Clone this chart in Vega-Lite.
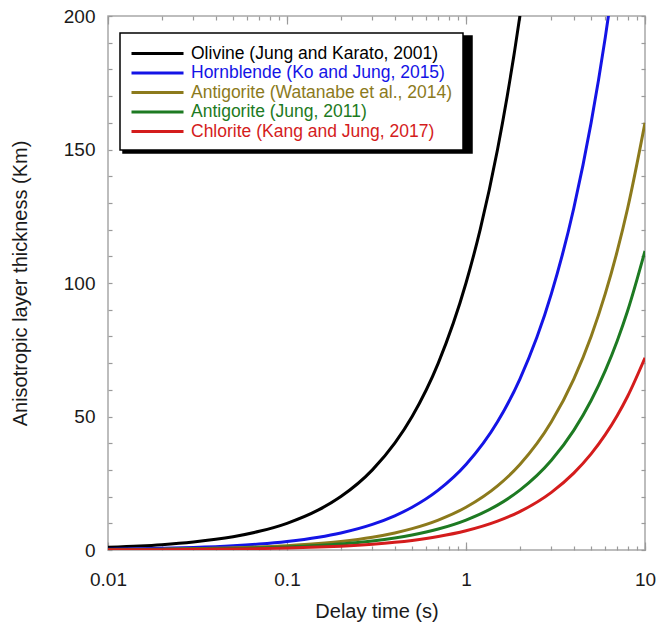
{
  "$schema": "https://vega.github.io/schema/vega-lite/v6.json",
  "autosize": "none",
  "padding": {"left": 108, "top": 16, "right": 27, "bottom": 80},
  "width": 537,
  "height": 534,
  "background": "white",
  "config": {
    "font": "Liberation Sans",
    "view": {"stroke": "#a8a8a8", "strokeWidth": 1.5},
    "axis": {
      "domain": false,
      "grid": false,
      "tickColor": "#9a9a9a",
      "tickWidth": 1.2,
      "labelFont": "Liberation Sans",
      "labelFontSize": 19,
      "labelColor": "#1a1a1a",
      "titleFont": "Liberation Sans",
      "titleFontSize": 20,
      "titleFontWeight": "normal",
      "titleColor": "#1a1a1a"
    },
    "legend": {
      "labelFont": "Liberation Sans",
      "labelFontSize": 17.5,
      "strokeWidth": 1.5
    }
  },
  "data": {
    "values": [
      {"mineral": "Olivine (Jung and Karato, 2001)", "t": 0.01, "h": 1},
      {"mineral": "Olivine (Jung and Karato, 2001)", "t": 0.015, "h": 1.5},
      {"mineral": "Olivine (Jung and Karato, 2001)", "t": 0.02, "h": 2},
      {"mineral": "Olivine (Jung and Karato, 2001)", "t": 0.03, "h": 3},
      {"mineral": "Olivine (Jung and Karato, 2001)", "t": 0.04, "h": 4},
      {"mineral": "Olivine (Jung and Karato, 2001)", "t": 0.05, "h": 5},
      {"mineral": "Olivine (Jung and Karato, 2001)", "t": 0.07, "h": 7},
      {"mineral": "Olivine (Jung and Karato, 2001)", "t": 0.1, "h": 10},
      {"mineral": "Olivine (Jung and Karato, 2001)", "t": 0.15, "h": 15},
      {"mineral": "Olivine (Jung and Karato, 2001)", "t": 0.2, "h": 20},
      {"mineral": "Olivine (Jung and Karato, 2001)", "t": 0.3, "h": 30},
      {"mineral": "Olivine (Jung and Karato, 2001)", "t": 0.4, "h": 40},
      {"mineral": "Olivine (Jung and Karato, 2001)", "t": 0.5, "h": 50},
      {"mineral": "Olivine (Jung and Karato, 2001)", "t": 0.7, "h": 70},
      {"mineral": "Olivine (Jung and Karato, 2001)", "t": 1, "h": 100},
      {"mineral": "Olivine (Jung and Karato, 2001)", "t": 1.2, "h": 120},
      {"mineral": "Olivine (Jung and Karato, 2001)", "t": 1.5, "h": 150},
      {"mineral": "Olivine (Jung and Karato, 2001)", "t": 1.7, "h": 170},
      {"mineral": "Olivine (Jung and Karato, 2001)", "t": 2, "h": 200},
      {"mineral": "Olivine (Jung and Karato, 2001)", "t": 2.2, "h": 220},
      {"mineral": "Hornblende (Ko and Jung, 2015)", "t": 0.01, "h": 0.32},
      {"mineral": "Hornblende (Ko and Jung, 2015)", "t": 0.02, "h": 0.64},
      {"mineral": "Hornblende (Ko and Jung, 2015)", "t": 0.03, "h": 0.96},
      {"mineral": "Hornblende (Ko and Jung, 2015)", "t": 0.05, "h": 1.6},
      {"mineral": "Hornblende (Ko and Jung, 2015)", "t": 0.07, "h": 2.24},
      {"mineral": "Hornblende (Ko and Jung, 2015)", "t": 0.1, "h": 3.2},
      {"mineral": "Hornblende (Ko and Jung, 2015)", "t": 0.15, "h": 4.8},
      {"mineral": "Hornblende (Ko and Jung, 2015)", "t": 0.2, "h": 6.4},
      {"mineral": "Hornblende (Ko and Jung, 2015)", "t": 0.3, "h": 9.6},
      {"mineral": "Hornblende (Ko and Jung, 2015)", "t": 0.4, "h": 12.8},
      {"mineral": "Hornblende (Ko and Jung, 2015)", "t": 0.5, "h": 16},
      {"mineral": "Hornblende (Ko and Jung, 2015)", "t": 0.7, "h": 22.4},
      {"mineral": "Hornblende (Ko and Jung, 2015)", "t": 1, "h": 32},
      {"mineral": "Hornblende (Ko and Jung, 2015)", "t": 1.5, "h": 48},
      {"mineral": "Hornblende (Ko and Jung, 2015)", "t": 2, "h": 64},
      {"mineral": "Hornblende (Ko and Jung, 2015)", "t": 3, "h": 96},
      {"mineral": "Hornblende (Ko and Jung, 2015)", "t": 4, "h": 128},
      {"mineral": "Hornblende (Ko and Jung, 2015)", "t": 5, "h": 160},
      {"mineral": "Hornblende (Ko and Jung, 2015)", "t": 6, "h": 192},
      {"mineral": "Hornblende (Ko and Jung, 2015)", "t": 6.5, "h": 208},
      {"mineral": "Antigorite (Watanabe et al., 2014)", "t": 0.01, "h": 0.16},
      {"mineral": "Antigorite (Watanabe et al., 2014)", "t": 0.02, "h": 0.32},
      {"mineral": "Antigorite (Watanabe et al., 2014)", "t": 0.05, "h": 0.8},
      {"mineral": "Antigorite (Watanabe et al., 2014)", "t": 0.1, "h": 1.6},
      {"mineral": "Antigorite (Watanabe et al., 2014)", "t": 0.15, "h": 2.4},
      {"mineral": "Antigorite (Watanabe et al., 2014)", "t": 0.2, "h": 3.2},
      {"mineral": "Antigorite (Watanabe et al., 2014)", "t": 0.3, "h": 4.8},
      {"mineral": "Antigorite (Watanabe et al., 2014)", "t": 0.4, "h": 6.4},
      {"mineral": "Antigorite (Watanabe et al., 2014)", "t": 0.5, "h": 8},
      {"mineral": "Antigorite (Watanabe et al., 2014)", "t": 0.7, "h": 11.2},
      {"mineral": "Antigorite (Watanabe et al., 2014)", "t": 1, "h": 16},
      {"mineral": "Antigorite (Watanabe et al., 2014)", "t": 1.5, "h": 24},
      {"mineral": "Antigorite (Watanabe et al., 2014)", "t": 2, "h": 32},
      {"mineral": "Antigorite (Watanabe et al., 2014)", "t": 3, "h": 48},
      {"mineral": "Antigorite (Watanabe et al., 2014)", "t": 4, "h": 64},
      {"mineral": "Antigorite (Watanabe et al., 2014)", "t": 5, "h": 80},
      {"mineral": "Antigorite (Watanabe et al., 2014)", "t": 6, "h": 96},
      {"mineral": "Antigorite (Watanabe et al., 2014)", "t": 7, "h": 112},
      {"mineral": "Antigorite (Watanabe et al., 2014)", "t": 8, "h": 128},
      {"mineral": "Antigorite (Watanabe et al., 2014)", "t": 10, "h": 160},
      {"mineral": "Antigorite (Jung, 2011)", "t": 0.01, "h": 0.11},
      {"mineral": "Antigorite (Jung, 2011)", "t": 0.02, "h": 0.22},
      {"mineral": "Antigorite (Jung, 2011)", "t": 0.05, "h": 0.56},
      {"mineral": "Antigorite (Jung, 2011)", "t": 0.1, "h": 1.12},
      {"mineral": "Antigorite (Jung, 2011)", "t": 0.15, "h": 1.68},
      {"mineral": "Antigorite (Jung, 2011)", "t": 0.2, "h": 2.24},
      {"mineral": "Antigorite (Jung, 2011)", "t": 0.3, "h": 3.36},
      {"mineral": "Antigorite (Jung, 2011)", "t": 0.4, "h": 4.48},
      {"mineral": "Antigorite (Jung, 2011)", "t": 0.5, "h": 5.6},
      {"mineral": "Antigorite (Jung, 2011)", "t": 0.7, "h": 7.84},
      {"mineral": "Antigorite (Jung, 2011)", "t": 1, "h": 11.2},
      {"mineral": "Antigorite (Jung, 2011)", "t": 1.5, "h": 16.8},
      {"mineral": "Antigorite (Jung, 2011)", "t": 2, "h": 22.4},
      {"mineral": "Antigorite (Jung, 2011)", "t": 3, "h": 33.6},
      {"mineral": "Antigorite (Jung, 2011)", "t": 4, "h": 44.8},
      {"mineral": "Antigorite (Jung, 2011)", "t": 5, "h": 56},
      {"mineral": "Antigorite (Jung, 2011)", "t": 6, "h": 67.2},
      {"mineral": "Antigorite (Jung, 2011)", "t": 7, "h": 78.4},
      {"mineral": "Antigorite (Jung, 2011)", "t": 8, "h": 89.6},
      {"mineral": "Antigorite (Jung, 2011)", "t": 10, "h": 112},
      {"mineral": "Chlorite (Kang and Jung, 2017)", "t": 0.01, "h": 0.07},
      {"mineral": "Chlorite (Kang and Jung, 2017)", "t": 0.02, "h": 0.14},
      {"mineral": "Chlorite (Kang and Jung, 2017)", "t": 0.05, "h": 0.36},
      {"mineral": "Chlorite (Kang and Jung, 2017)", "t": 0.1, "h": 0.72},
      {"mineral": "Chlorite (Kang and Jung, 2017)", "t": 0.15, "h": 1.08},
      {"mineral": "Chlorite (Kang and Jung, 2017)", "t": 0.2, "h": 1.44},
      {"mineral": "Chlorite (Kang and Jung, 2017)", "t": 0.3, "h": 2.16},
      {"mineral": "Chlorite (Kang and Jung, 2017)", "t": 0.4, "h": 2.88},
      {"mineral": "Chlorite (Kang and Jung, 2017)", "t": 0.5, "h": 3.6},
      {"mineral": "Chlorite (Kang and Jung, 2017)", "t": 0.7, "h": 5.04},
      {"mineral": "Chlorite (Kang and Jung, 2017)", "t": 1, "h": 7.2},
      {"mineral": "Chlorite (Kang and Jung, 2017)", "t": 1.5, "h": 10.8},
      {"mineral": "Chlorite (Kang and Jung, 2017)", "t": 2, "h": 14.4},
      {"mineral": "Chlorite (Kang and Jung, 2017)", "t": 3, "h": 21.6},
      {"mineral": "Chlorite (Kang and Jung, 2017)", "t": 4, "h": 28.8},
      {"mineral": "Chlorite (Kang and Jung, 2017)", "t": 5, "h": 36},
      {"mineral": "Chlorite (Kang and Jung, 2017)", "t": 6, "h": 43.2},
      {"mineral": "Chlorite (Kang and Jung, 2017)", "t": 7, "h": 50.4},
      {"mineral": "Chlorite (Kang and Jung, 2017)", "t": 8, "h": 57.6},
      {"mineral": "Chlorite (Kang and Jung, 2017)", "t": 10, "h": 72}
    ]
  },
  "layer": [
    {
      "mark": {"type": "point", "opacity": 0},
      "encoding": {
        "x": {"field": "t", "type": "quantitative", "scale": {"type": "log", "domain": [0.01, 10]}, "axis": null},
        "y": {"field": "h", "type": "quantitative", "scale": {"domain": [0, 200], "nice": false}, "axis": null},
        "color": {
          "field": "mineral", "type": "nominal",
          "scale": {
            "domain": ["Chlorite (Kang and Jung, 2017)", "Antigorite (Jung, 2011)", "Antigorite (Watanabe et al., 2014)", "Hornblende (Ko and Jung, 2015)", "Olivine (Jung and Karato, 2001)"],
            "range": ["#000000", "#000000", "#000000", "#000000", "#000000"]
          },
          "legend": {
            "title": null,
            "orient": "none",
            "legendX": 15,
            "legendY": 20,
            "padding": 10,
            "fillColor": "black",
            "strokeColor": "black",
            "symbolType": "M-1,0H35.3",
            "symbolSize": 324,
            "symbolOpacity": 0,
            "symbolStrokeWidth": 3,
            "labelOffset": 40,
            "labelLimit": 500,
            "labelOpacity": 0,
            "rowPadding": 0.5,
            "labelExpr": "''"
          }
        }
      }
    },
    {
      "mark": {"type": "line", "strokeWidth": 3, "clip": true, "interpolate": "monotone"},
      "encoding": {
        "x": {
          "field": "t", "type": "quantitative",
          "scale": {"type": "log", "domain": [0.01, 10]},
          "axis": {
            "orient": "bottom",
            "title": "Delay time (s)",
            "values": [0.01, 0.1, 1, 10],
            "format": "~g",
            "ticks": false,
            "labelPadding": 20,
            "labelFlush": false,
            "labelOverlap": false,
            "titlePadding": 12
          }
        },
        "y": {
          "field": "h", "type": "quantitative",
          "scale": {"domain": [0, 200], "nice": false},
          "axis": {
            "orient": "left",
            "title": "Anisotropic layer thickness (Km)",
            "values": [0, 50, 100, 150, 200],
            "ticks": false,
            "labelPadding": 13,
            "labelOverlap": false,
            "titlePadding": 33
          }
        },
        "stroke": {
          "field": "mineral", "type": "nominal",
          "scale": {
            "domain": ["Olivine (Jung and Karato, 2001)", "Hornblende (Ko and Jung, 2015)", "Antigorite (Watanabe et al., 2014)", "Antigorite (Jung, 2011)", "Chlorite (Kang and Jung, 2017)"],
            "range": ["#000000", "#1414e6", "#8c7a1c", "#1d7a22", "#d41c1c"]
          },
          "legend": {
            "title": null,
            "orient": "none",
            "legendX": 12,
            "legendY": 17,
            "padding": 10,
            "fillColor": "white",
            "strokeColor": "black",
            "symbolType": "M-1,0H4.78",
            "symbolSize": 324,
            "symbolStrokeWidth": 3,
            "labelOffset": 40,
            "labelLimit": 500,
            "rowPadding": 0.5,
            "labelExpr": "datum.label + '    '",
            "labelColor": {"expr": "scale('stroke', datum.value)"}
          }
        }
      }
    },
    {
      "mark": {"type": "point", "opacity": 0},
      "encoding": {
        "x": {
          "field": "t", "type": "quantitative",
          "scale": {"type": "log", "domain": [0.01, 10]},
          "axis": {
            "orient": "top", "title": null, "labels": false, "ticks": true, "tickSize": 4, "offset": -4,
            "values": [0.01,0.02,0.03,0.04,0.05,0.06,0.07,0.08,0.09,0.1,0.2,0.3,0.4,0.5,0.6,0.7,0.8,0.9,1,2,3,4,5,6,7,8,9,10]
          }
        },
        "y": {
          "field": "h", "type": "quantitative",
          "scale": {"domain": [0, 200], "nice": false},
          "axis": {
            "orient": "right", "title": null, "labels": false, "ticks": true, "tickSize": 4, "offset": -4,
            "values": [0,10,20,30,40,50,60,70,80,90,100,110,120,130,140,150,160,170,180,190,200]
          }
        }
      }
    },
    {
      "mark": {"type": "point", "opacity": 0},
      "encoding": {
        "x": {
          "field": "t", "type": "quantitative",
          "scale": {"type": "log", "domain": [0.01, 10]},
          "axis": {
            "orient": "bottom", "title": null, "labels": false, "ticks": true, "tickSize": 4, "offset": -4,
            "values": [0.01,0.02,0.03,0.04,0.05,0.06,0.07,0.08,0.09,0.1,0.2,0.3,0.4,0.5,0.6,0.7,0.8,0.9,1,2,3,4,5,6,7,8,9,10]
          }
        },
        "y": {
          "field": "h", "type": "quantitative",
          "scale": {"domain": [0, 200], "nice": false},
          "axis": {
            "orient": "left", "title": null, "labels": false, "ticks": true, "tickSize": 4, "offset": -4,
            "values": [0,10,20,30,40,50,60,70,80,90,100,110,120,130,140,150,160,170,180,190,200]
          }
        }
      }
    },
    {
      "mark": {"type": "point", "opacity": 0},
      "encoding": {
        "x": {
          "field": "t", "type": "quantitative",
          "scale": {"type": "log", "domain": [0.01, 10]},
          "axis": {"orient": "bottom", "title": null, "labels": false, "ticks": true, "tickSize": 8, "offset": -8, "values": [0.01, 0.1, 1, 10]}
        },
        "y": {"field": "h", "type": "quantitative", "scale": {"domain": [0, 200], "nice": false}, "axis": null}
      }
    },
    {
      "mark": {"type": "point", "opacity": 0},
      "encoding": {
        "x": {
          "field": "t", "type": "quantitative",
          "scale": {"type": "log", "domain": [0.01, 10]},
          "axis": {"orient": "top", "title": null, "labels": false, "ticks": true, "tickSize": 8, "offset": -8, "values": [0.01, 0.1, 1, 10]}
        },
        "y": {"field": "h", "type": "quantitative", "scale": {"domain": [0, 200], "nice": false}, "axis": null}
      }
    }
  ],
  "resolve": {"axis": {"x": "independent", "y": "independent"}}
}
